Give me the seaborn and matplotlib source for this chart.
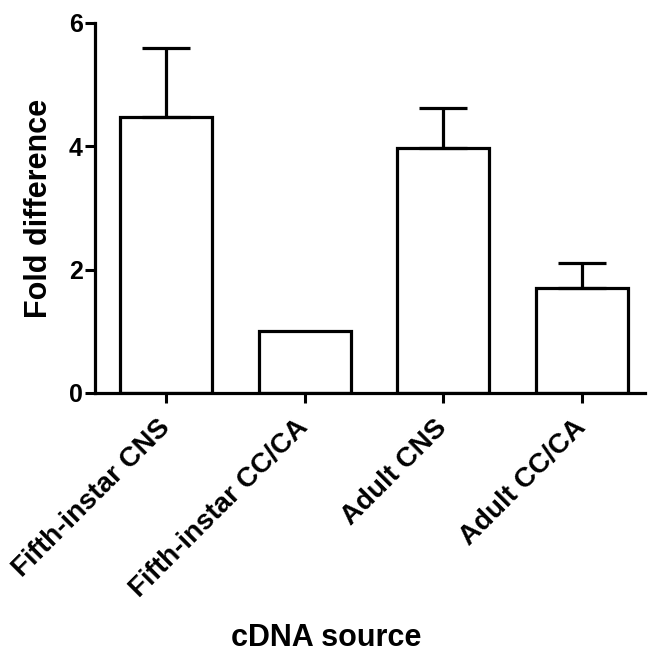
import matplotlib
matplotlib.use("Agg")
import matplotlib.pyplot as plt
import seaborn as sns
import pandas as pd

# values
sources = ["Fifth-instar CNS", "Fifth-instar CC/CA", "Adult CNS", "Adult CC/CA"]
fold_mean = [4.48, 1.00, 3.98, 1.70]
fold_err = [1.11, 0.0, 0.64, 0.41]
y_ticks = [0, 2, 4, 6]

df = pd.DataFrame({"source": sources, "fold": fold_mean})

sns.set_style("ticks")
plt.rcParams["font.family"] = ["Liberation Sans", "DejaVu Sans"]
plt.rcParams["font.weight"] = "bold"
plt.rcParams["text.color"] = "black"
plt.rcParams["axes.labelcolor"] = "black"
plt.rcParams["xtick.color"] = "black"
plt.rcParams["ytick.color"] = "black"

fig = plt.figure(figsize=(6.49, 6.56), dpi=100)
ax = fig.add_axes([95 / 649, 1 - 393 / 656, 550 / 649, 370 / 656])

sns.barplot(
    data=df,
    x="source",
    y="fold",
    color="white",
    edgecolor="black",
    linewidth=2.3,
    width=0.665,
    errorbar=None,
    ax=ax,
)

# upper-only error bars (skip the calibrator bar with no error)
for i, (m, e) in enumerate(zip(fold_mean, fold_err)):
    if e > 0:
        ax.errorbar(
            i, m, yerr=[[0], [e]], fmt="none", ecolor="black",
            elinewidth=2.3, capsize=17, capthick=2.3, zorder=1,
        )

ax.set_xlim(-0.513, 3.458)
ax.set_ylim(0, 6)
ax.set_yticks(y_ticks)
ax.set_yticklabels([str(t) for t in y_ticks], fontsize=18, fontweight="bold")
ax.set_xticks(range(len(sources)))
ax.set_xticklabels(sources, fontsize=20, fontweight="bold", rotation=45,
                   ha="right", va="center", rotation_mode="anchor")

sns.despine(ax=ax)
for side in ["left", "bottom"]:
    ax.spines[side].set_linewidth(2.3)
    ax.spines[side].set_color("black")
ax.tick_params(axis="both", width=2.2, length=7, color="black")
ax.tick_params(axis="y", pad=2)
ax.tick_params(axis="x", pad=15)

ax.set_ylabel("Fold difference", fontsize=22, fontweight="bold")
ax.set_xlabel("cDNA source", fontsize=22, fontweight="bold")
ax.yaxis.set_label_coords(-0.074, 0.5)
ax.xaxis.set_label_coords(0.42, -0.622)

fig.savefig("out.png", dpi=100)
